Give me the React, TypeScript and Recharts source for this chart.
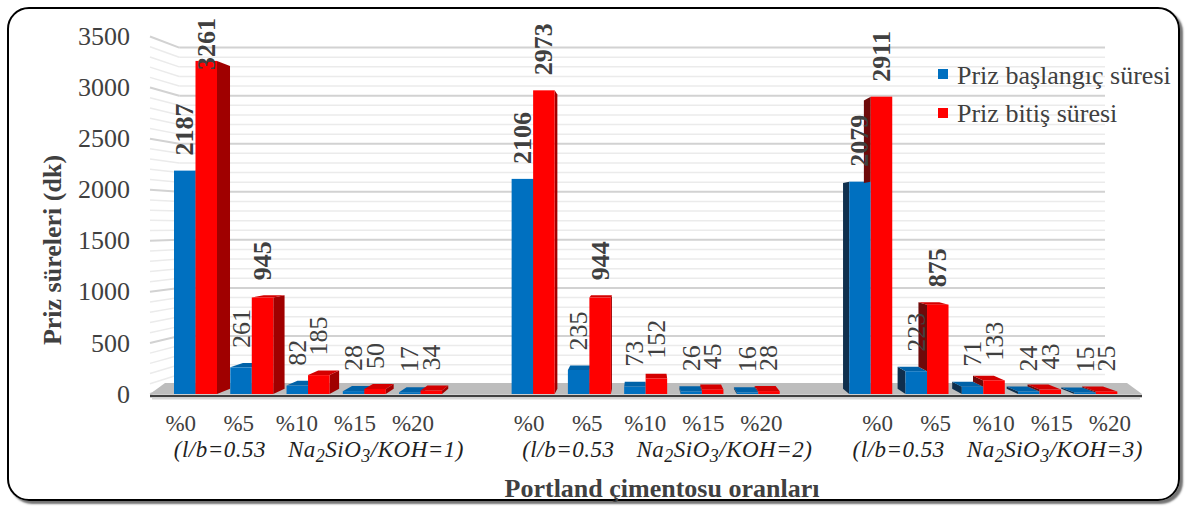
import { Bar, BarChart, LabelList, Legend, XAxis, YAxis } from "recharts"

const W = 1186
const H = 507
const FONT = "'Liberation Serif', 'Times New Roman', Times, serif"
const SERIF = { fontFamily: FONT }
const INK = "#404040"

// data
const categories = ["%0", "%5", "%10", "%15", "%20", "", "%0", "%5", "%10", "%15", "%20", "", "%0", "%5", "%10", "%15", "%20"]
const baslangic = [2187, 261, 82, 28, 17, null, 2106, 235, 73, 26, 16, null, 2079, 223, 71, 24, 15]
const bitis = [3261, 945, 185, 50, 34, null, 2973, 944, 152, 45, 28, null, 2911, 875, 133, 43, 25]
const kohRatios = ["1", "2", "3"]
const yTicks = [0, 500, 1000, 1500, 2000, 2500, 3000, 3500]
const seriesNames = ["Priz başlangıç süresi", "Priz bitiş süresi"]

const data = categories.map((cat, i) => ({ cat, idx: i, baslangic: baslangic[i], bitis: bitis[i] }))

// plot box (front plane)
const PLOT_LEFT = 167
const PLOT_RIGHT = 1123.6
const PLOT_TOP = 36.5
const PLOT_BOTTOM = 394
const PLOT_MID = (PLOT_LEFT + PLOT_RIGHT) / 2
const NOTE_SHIFT = [22, 22, 4]

// fake 3d perspective
const K = 0.0304
const VPX = 645
const VPY = 225
const WALL = 0.941

const BLUE = { front: "#0070C0", right: "#004a80", left: "#0f2f4d", top: "#0062a8" }
const RED = { front: "#FF0000", right: "#a00000", left: "#6e0a0a", top: "#d40000" }

const toBack = (px: number, py: number): [number, number] => [px + K * (VPX - px), py + K * (VPY - py)]
const pts = (arr: number[][]) => arr.map((p) => `${p[0]},${p[1]}`).join(" ")

function drawBar(p: any, c: typeof BLUE, occluderTop: number | null) {
  const { x, y, width: w, height: h } = p
  if (!(h > 0) || x == null) return <g />
  const b = y + h
  const parts: JSX.Element[] = []
  if (x + w < VPX) {
    const t = toBack(x + w, y)
    const bb = toBack(x + w, b)
    parts.push(<polygon key="s" points={pts([[x + w, y], t, bb, [x + w, b]])} fill={c.right} />)
  } else if (x > VPX) {
    const bottom = occluderTop != null ? Math.min(b, occluderTop) : b
    const t = toBack(x, y)
    const bb = toBack(x, bottom)
    parts.push(<polygon key="s" points={pts([[x, y], t, bb, [x, bottom]])} fill={c.left} />)
  }
  if (y > VPY) {
    const a = toBack(x, y)
    const d = toBack(x + w, y)
    parts.push(<polygon key="t" points={pts([[x, y], [x + w, y], d, a])} fill={c.top} />)
  }
  parts.push(<rect key="f" x={x} y={y} width={w} height={h} fill={c.front} />)
  return <g>{parts}</g>
}

const blueShape = (p: any) => drawBar(p, BLUE, null)
const redShape = (p: any) => {
  const bv = p.payload?.baslangic
  const rv = p.payload?.bitis
  let occ: number | null = null
  if (bv != null && rv) occ = p.y + p.height - bv * (p.height / rv)
  return drawBar(p, RED, occ)
}

function valueLabel(cx: number, top: number, v: number, key: string) {
  const backTop = top > VPY ? top + K * (VPY - top) : top
  const len = String(v).length * 13
  const base = Math.max(Math.min(top, backTop) - 15, 18 + len)
  return (
    <text
      key={key}
      x={cx}
      y={base}
      transform={`rotate(-90 ${cx} ${base})`}
      textAnchor="start"
      dominantBaseline="central"
      fontFamily={FONT}
      style={SERIF}
      fontSize={26}
      fontWeight={v >= 800 ? "bold" : "normal"}
      fill={INK}
    >
      {v}
    </text>
  )
}

// both series' labels drawn after the red bars so nothing covers them
const renderLabels = (p: any) => {
  const i = p.value
  const vb = p.viewBox ?? p
  const rv = bitis[i]
  const bv = baslangic[i]
  if (rv == null || bv == null || vb == null || !(vb.height > 0)) return null
  const scale = vb.height / rv
  const base = vb.y + vb.height
  return (
    <g>
      {valueLabel(vb.x - vb.width / 2, base - bv * scale, bv, "b")}
      {valueLabel(vb.x + vb.width / 2, vb.y, rv, "r")}
    </g>
  )
}

const renderXTick = (p: any) => {
  const { x, y, payload, index } = p
  const lx = PLOT_MID + (x - PLOT_MID) * 1.032
  const g = Math.floor(index / 6)
  return (
    <g>
      {payload.value ? (
        <text x={lx} y={y + 37} textAnchor="middle" fontFamily={FONT} style={SERIF} fontSize={23} fill={INK}>
          {payload.value}
        </text>
      ) : null}
      {index % 6 === 2 ? (
        <text
          x={lx + NOTE_SHIFT[g]}
          y={y + 63}
          textAnchor="middle"
          fontFamily={FONT}
          style={SERIF}
          fontSize={23}
          letterSpacing={0.5}
          fontStyle="italic"
          fill="#1f1f1f"
        >
          (l/b=0.53
          <tspan dx={22}>Na</tspan>
          <tspan dy={5} fontSize={18}>2</tspan>
          <tspan dy={-5}>SiO</tspan>
          <tspan dy={5} fontSize={18}>3</tspan>
          <tspan dy={-5}>/KOH={kohRatios[g]})</tspan>
        </text>
      ) : null}
    </g>
  )
}

const renderYTick = (p: any) => (
  <text x={p.x} y={p.y} dy="0.33em" textAnchor="end" fontFamily={FONT} style={SERIF} fontSize={26} fill={INK}>
    {p.payload.value}
  </text>
)

const renderLegend = (props: any) => (
  <div style={{ position: "relative", width: 245, height: 80, fontFamily: FONT }}>
    {(props.payload ?? []).map((e: any, i: number) => (
      <div key={i}>
        <span
          style={{ position: "absolute", left: 2, top: 11 + i * 39, width: 10, height: 10, background: e.color }}
        />
        <span
          style={{
            position: "absolute",
            left: 21,
            top: 5.2 + i * 38,
            fontFamily: FONT,
            fontSize: 26,
            lineHeight: "26px",
            color: INK,
            whiteSpace: "nowrap",
          }}
        >
          {e.value}
        </span>
      </div>
    ))}
  </div>
)

// back wall / side wall / floor of the 3d box
function Backdrop() {
  const yFront = (v: number) => PLOT_BOTTOM - (v * (PLOT_BOTTOM - PLOT_TOP)) / 3500
  const wallY = (v: number) => VPY + WALL * (yFront(v) - VPY)
  const leftBack = VPX + WALL * (150 - VPX)
  const rightBack = 1105
  const lines: JSX.Element[] = []
  for (let v = 0; v <= 3500; v += 100) {
    const major = yTicks.includes(v)
    const stroke = major ? "#d2d2d2" : "#ebebeb"
    const sw = major ? 2 : 1.5
    lines.push(<line key={`s${v}`} x1={150} y1={yFront(v)} x2={leftBack} y2={wallY(v)} stroke={stroke} strokeWidth={sw} />)
    lines.push(<line key={`b${v}`} x1={leftBack} y1={wallY(v)} x2={rightBack} y2={wallY(v)} stroke={stroke} strokeWidth={sw} />)
  }
  return (
    <svg width={W} height={H} style={{ position: "absolute", left: 0, top: 0 }}>
      {lines}
      <polygon points="150,394 1142,394 1127,383 165,383" fill="#bdbdbd" />
      <line x1={150} y1={396} x2={1142} y2={396} stroke="#404040" strokeWidth={2.6} />
      <line x1={152} y1={398.6} x2={1140} y2={398.6} stroke="#d6d6d6" strokeWidth={1.6} />
      <text
        x={52}
        y={250}
        transform="rotate(-90 52 250)"
        textAnchor="middle"
        dominantBaseline="central"
        fontFamily={FONT}
        style={SERIF}
        fontSize={26}
        fontWeight="bold"
        fill={INK}
      >
        Priz süreleri (dk)
      </text>
      <text x={662} y={497} textAnchor="middle" fontFamily={FONT} style={SERIF} fontSize={26} fontWeight="bold" fill={INK}>
        Portland çimentosu oranları
      </text>
    </svg>
  )
}

export default function App() {
  return (
    <div
      style={{
        position: "absolute",
        left: 0,
        top: 0,
        width: W,
        height: H,
        background: "#fff",
        overflow: "hidden",
        fontFamily: FONT,
      }}
    >
      <div
        style={{
          position: "absolute",
          left: 7,
          top: 7,
          width: 1173,
          height: 494,
          boxSizing: "border-box",
          border: "2px solid #000",
          borderRadius: 22,
          boxShadow: "3px 3px 2px rgba(0,0,0,0.55)",
        }}
      />
      <Backdrop />
      <div style={{ position: "absolute", left: 0, top: 0 }}>
        <BarChart
          width={W}
          height={H}
          data={data}
          margin={{ top: PLOT_TOP, right: W - PLOT_RIGHT, bottom: 0, left: 0 }}
          barGap={0}
          barSize={21.5}
        >
          <XAxis
            dataKey="cat"
            interval={0}
            axisLine={false}
            tickLine={false}
            tickSize={0}
            tickMargin={0}
            height={H - PLOT_BOTTOM}
            tick={renderXTick}
          />
          <YAxis
            domain={[0, 3500]}
            ticks={yTicks}
            axisLine={false}
            tickLine={false}
            tickSize={0}
            tickMargin={37}
            width={PLOT_LEFT}
            tick={renderYTick}
          />
          <Legend
            layout="vertical"
            align="center"
            verticalAlign="middle"
            content={renderLegend}
            wrapperStyle={{ position: "absolute", top: 58, left: 936, width: 245, height: 80 }}
          />
          <Bar dataKey="baslangic" name={seriesNames[0]} fill={BLUE.front} shape={blueShape} isAnimationActive={false} />
          <Bar dataKey="bitis" name={seriesNames[1]} fill={RED.front} shape={redShape} isAnimationActive={false}>
            <LabelList dataKey="idx" content={renderLabels} />
          </Bar>
        </BarChart>
      </div>
    </div>
  )
}
